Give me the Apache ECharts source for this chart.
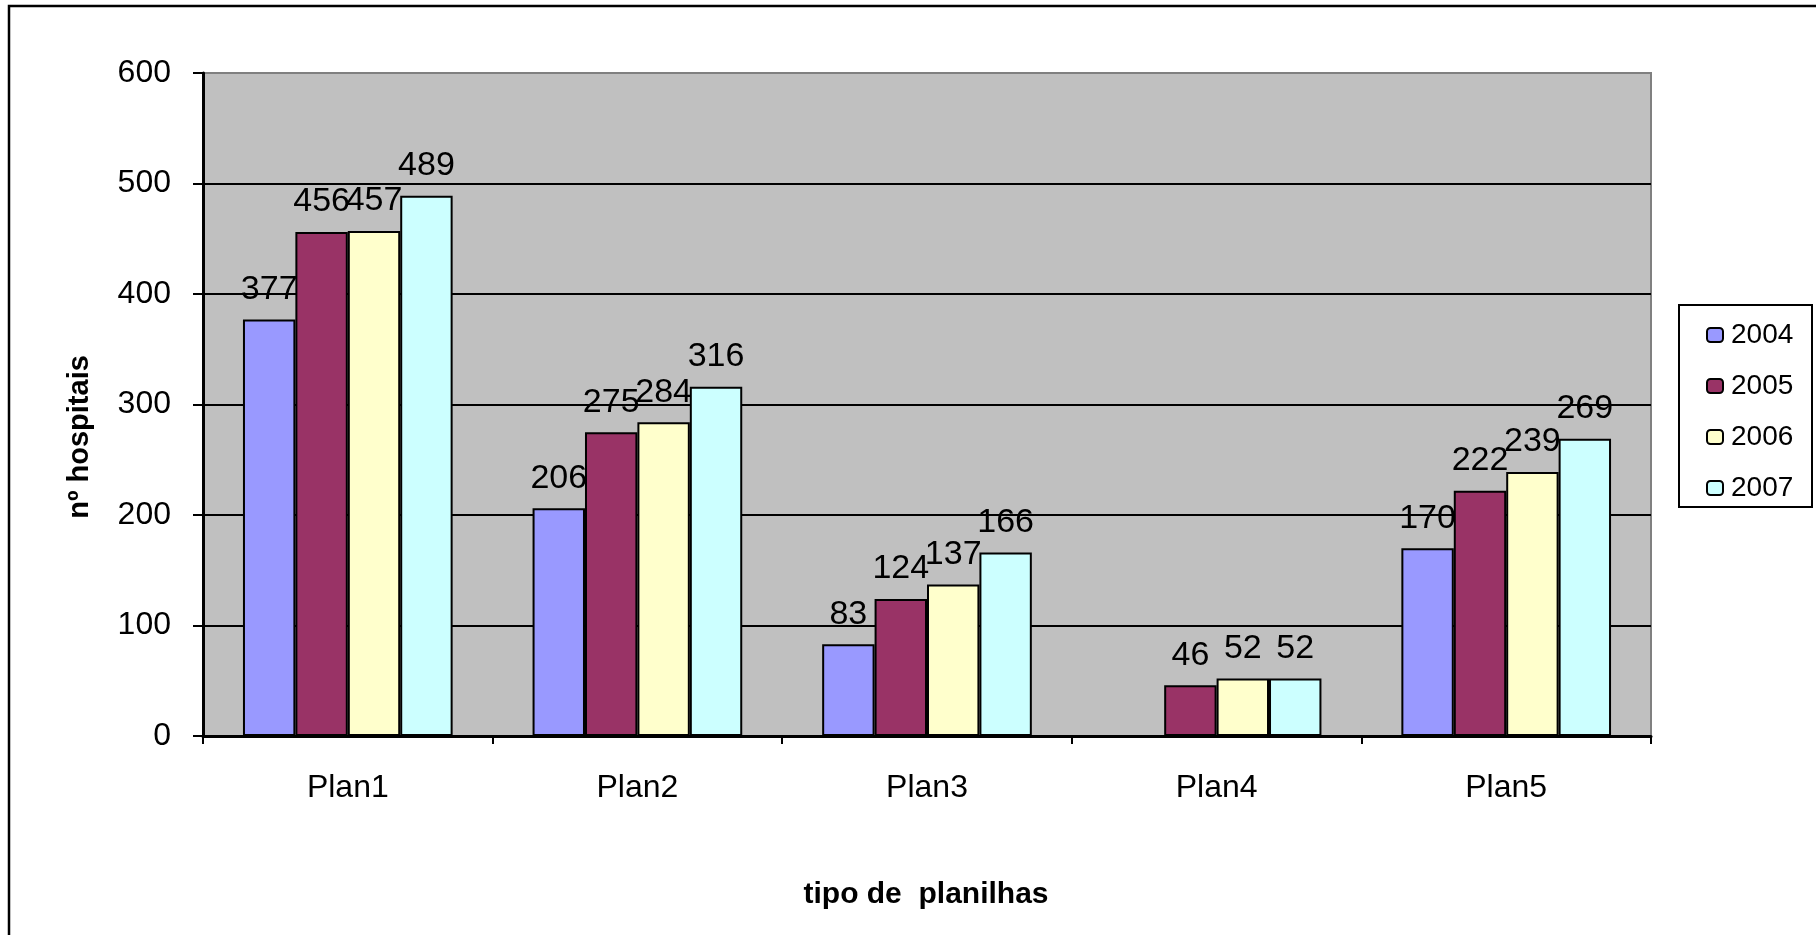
<!DOCTYPE html>
<html>
<head>
<meta charset="utf-8">
<script src="https://cdn.jsdelivr.net/npm/echarts@6/dist/echarts.min.js"></script>
<style>
html,body{margin:0;padding:0;background:#fff;}
#chart{width:1816px;height:935px;}
</style>
</head>
<body>
<div id="chart"></div>
<script>
const categories = ['Plan1', 'Plan2', 'Plan3', 'Plan4', 'Plan5'];
const seriesNames = ['2004', '2005', '2006', '2007'];
const values2004 = [377, 206, 83, null, 170];
const values2005 = [456, 275, 124, 46, 222];
const values2006 = [457, 284, 137, 52, 239];
const values2007 = [489, 316, 166, 52, 269];
const yTicks = [0, 100, 200, 300, 400, 500, 600];
const colors = ['#9999FF', '#993366', '#FFFFCC', '#CCFFFF'];
const allValues = [values2004, values2005, values2006, values2007];

const FONT = '"Liberation Sans", Arial, sans-serif';
const chart = echarts.init(document.getElementById('chart'));

const series = seriesNames.map((name, i) => ({
  name: name,
  type: 'bar',
  data: allValues[i],
  barGap: '0%',
  barCategoryGap: '27.6%',
  itemStyle: { color: colors[i], borderColor: '#000', borderWidth: 2 },
  label: {
    show: true,
    position: 'top',
    distance: 13,
    color: '#000',
    fontFamily: FONT,
    fontSize: 34
  },
  emphasis: { disabled: true },
  animation: false
}));

chart.setOption({
  animation: false,
  backgroundColor: '#fff',
  grid: {
    left: 203, right: 165, top: 73, bottom: 199,
    show: true,
    backgroundColor: '#C0C0C0',
    borderColor: '#808080',
    borderWidth: 2
  },
  legend: {
    orient: 'vertical',
    left: 1706,
    top: 321,
    itemWidth: 16,
    itemHeight: 14,
    itemGap: 23,
    padding: 0,
    data: seriesNames,
    textStyle: { color: '#000', fontFamily: FONT, fontSize: 28, padding: [0, 0, 0, 3] },
    selectedMode: false
  },
  xAxis: {
    type: 'category',
    data: categories,
    axisLine: { show: true, lineStyle: { color: '#000', width: 3 } },
    axisTick: { show: true, length: 8, lineStyle: { color: '#000', width: 2 } },
    axisLabel: { color: '#000', fontFamily: FONT, fontSize: 32, margin: 36 },
    splitLine: { show: false }
  },
  yAxis: {
    type: 'value',
    min: yTicks[0],
    max: yTicks[yTicks.length - 1],
    interval: 100,
    axisLine: { show: true, lineStyle: { color: '#000', width: 3 } },
    axisTick: { show: true, length: 10, lineStyle: { color: '#000', width: 2 } },
    axisLabel: { color: '#000', fontFamily: FONT, fontSize: 32, margin: 32 },
    splitLine: { show: true, showMinLine: false, showMaxLine: false, lineStyle: { color: '#000', width: 2 } }
  },
  graphic: [
    {
      type: 'rect', z: 100, silent: true,
      shape: { x: 9, y: 6, width: 1900, height: 1000 },
      style: { fill: 'none', stroke: '#000', lineWidth: 2.5 }
    },
    {
      type: 'rect', z: 0, silent: true,
      shape: { x: 1679, y: 305, width: 133, height: 202 },
      style: { fill: '#fff', stroke: '#000', lineWidth: 2 }
    },
    {
      type: 'text', silent: true,
      x: 926, y: 895,
      style: { text: 'tipo de  planilhas', fill: '#000', font: 'bold 30px ' + FONT, textAlign: 'center', textVerticalAlign: 'middle' }
    },
    {
      type: 'text', silent: true,
      x: 80, y: 437, rotation: Math.PI / 2,
      style: { text: 'nº hospitais', fill: '#000', font: 'bold 29px ' + FONT, textAlign: 'center', textVerticalAlign: 'middle' }
    }
  ],
  series: series
});
</script>
</body>
</html>
